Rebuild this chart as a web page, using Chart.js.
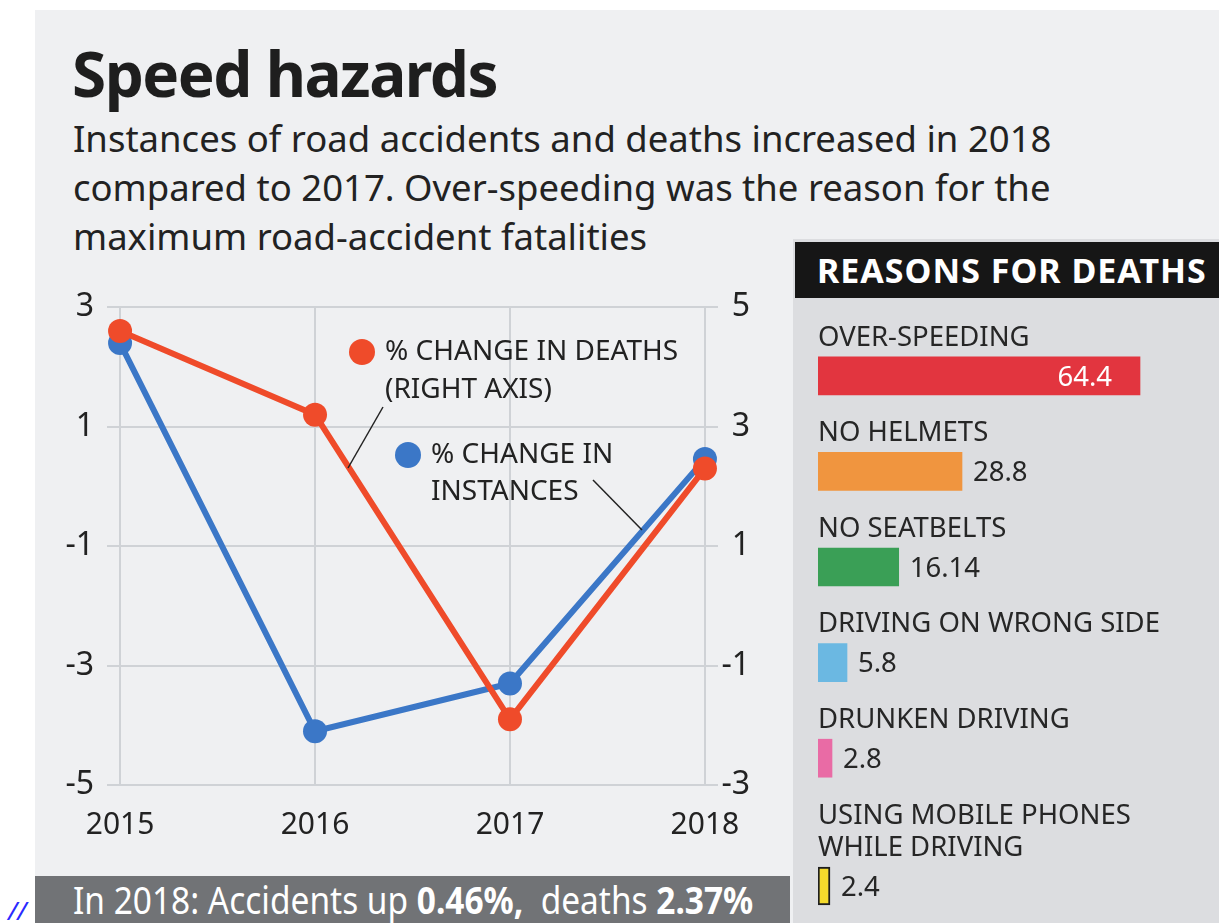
<!DOCTYPE html>
<html>
<head>
<meta charset="utf-8">
<script src="https://cdn.jsdelivr.net/npm/chart.js@4.4.1/dist/chart.umd.min.js"></script>
<style>
  body { margin: 0; width: 1219px; height: 923px; background: #fff; position: relative; overflow: hidden; font-family: "Noto Sans", sans-serif; color: #222; }
  .bg { position: absolute; left: 35px; top: 10px; width: 1184px; height: 913px; background: #eff0f2; }
  .side { position: absolute; left: 793px; top: 239px; width: 426px; height: 684px; background: #dcdde0; }
  .side-head { position: absolute; left: 795px; top: 242px; width: 424px; height: 56px; background: #161616; color: #fff; font-weight: bold; font-size: 34px; letter-spacing: 1px; line-height: 56px; padding-left: 22px; box-sizing: border-box; white-space: nowrap; overflow: hidden; }
  h1 { position: absolute; left: 72px; top: 42px; margin: 0; font-size: 62px; line-height: 62px; letter-spacing: -1.5px; font-weight: bold; color: #1e1e1e; }
  .sub { position: absolute; left: 73px; top: 114px; margin: 0; font-size: 36.5px; line-height: 49px; color: #222; white-space: nowrap; }
  .foot { position: absolute; left: 35px; top: 876px; width: 755px; height: 47px; background: #717376; color: #fff; font-size: 38px; line-height: 47px; white-space: nowrap; overflow: hidden; }
  .foot span { position: absolute; left: 38px; top: 0; transform: scaleX(0.88); transform-origin: left center; }
  .slash { position: absolute; left: 8px; top: 892px; font-size: 26px; font-style: italic; color: #2a2aff; }
  canvas { position: absolute; }
  #lineChart { left: 35px; top: 275px; }
  #barsTop { left: 818px; top: 305px; }
  #barsLast { left: 818px; top: 800px; }
</style>
</head>
<body>
<div class="bg"></div>
<div class="side"></div>
<div class="side-head">REASONS FOR DEATHS</div>
<h1>Speed hazards</h1>
<p class="sub">Instances of road accidents and deaths increased in 2018<br>compared to 2017. Over-speeding was the reason for the<br>maximum road-accident fatalities</p>
<div class="foot"><span>In 2018: Accidents up <b>0.46%,</b>&nbsp; deaths <b>2.37%</b></span></div>
<div class="slash">//</div>
<canvas id="lineChart" width="730" height="592"></canvas>
<canvas id="barsTop" width="400" height="501"></canvas>
<canvas id="barsLast" width="400" height="123"></canvas>
<script>
// line chart data (% change year on year)
const years = [2015, 2016, 2017, 2018];
const deathsChange = [4.6, 3.2, -1.9, 2.3];        // right axis
const instancesChange = [2.4, -4.1, -3.3, 0.46];   // left axis

// reasons for deaths (share, %)
const reasons = ["OVER-SPEEDING", "NO HELMETS", "NO SEATBELTS", "DRIVING ON WRONG SIDE",
  "DRUNKEN DRIVING", ["USING MOBILE PHONES", "WHILE DRIVING"]];
const reasonShares = [64.4, 28.8, 16.14, 5.8, 2.8, 2.4];

const red = "#ef4b2a";
const blue = "#3b77c7";
const barColors = ["#e2353f", "#f0953f", "#3a9f56", "#6bb8e2", "#e96ba5", "#f4da2c"];
const barBorders = [0, 0, 0, 0, 0, 2];
const FONT = '"Noto Sans", sans-serif';

const lineNotes = {
  id: "lineNotes",
  afterDatasetsDraw(chart) {
    const ctx = chart.ctx;
    ctx.save();
    // legend dots
    ctx.fillStyle = red;
    ctx.beginPath(); ctx.arc(327, 77, 13, 0, Math.PI * 2); ctx.fill();
    ctx.fillStyle = blue;
    ctx.beginPath(); ctx.arc(373, 180, 13, 0, Math.PI * 2); ctx.fill();
    // leader lines
    ctx.strokeStyle = "#222";
    ctx.lineWidth = 1.5;
    ctx.beginPath(); ctx.moveTo(348, 132); ctx.lineTo(313, 193); ctx.stroke();
    ctx.beginPath(); ctx.moveTo(558, 205); ctx.lineTo(607, 255); ctx.stroke();
    // labels
    ctx.fillStyle = "#222";
    ctx.font = "28px " + FONT;
    ctx.textBaseline = "middle";
    ctx.textAlign = "left";
    ctx.fillText("% CHANGE IN DEATHS", 350, 77);
    ctx.fillText("(RIGHT AXIS)", 350, 115);
    ctx.fillText("% CHANGE IN", 396, 180);
    ctx.fillText("INSTANCES", 396, 217);
    ctx.restore();
  }
};

new Chart(document.getElementById("lineChart"), {
  type: "line",
  data: {
    datasets: [
      {
        label: "% change in deaths",
        data: years.map((y, i) => ({ x: y, y: deathsChange[i] })),
        yAxisID: "yR",
        borderColor: red,
        backgroundColor: red,
        borderWidth: 6,
        pointRadius: 12,
        pointBorderWidth: 0,
        pointBackgroundColor: red
      },
      {
        label: "% change in instances",
        data: years.map((y, i) => ({ x: y, y: instancesChange[i] })),
        yAxisID: "yL",
        borderColor: blue,
        backgroundColor: blue,
        borderWidth: 6,
        pointRadius: 12,
        pointBorderWidth: 0,
        pointBackgroundColor: blue
      }
    ]
  },
  options: {
    responsive: false,
    animation: false,
    layout: { padding: { top: 0, right: 15, left: 0, bottom: 0 } },
    plugins: { legend: { display: false }, tooltip: { enabled: false } },
    scales: {
      x: {
        type: "linear",
        min: years[0] - 0.067,
        max: years[years.length - 1] + 0.067,
        border: { display: false },
        grid: { color: "#cfd2d6", lineWidth: 2, drawTicks: false },
        ticks: { stepSize: 1, includeBounds: false, padding: 22, color: "#222",
          font: { family: FONT, size: 30 }, callback: v => String(v) },
        afterFit: s => { s.height = 82; }
      },
      yL: {
        position: "left",
        min: -5, max: 3,
        border: { display: false },
        grid: { color: "#cfd2d6", lineWidth: 2, drawTicks: false },
        ticks: { stepSize: 2, padding: 13, color: "#222", font: { family: FONT, size: 32 } },
        afterFit: s => { s.width = 72; }
      },
      yR: {
        position: "right",
        min: -3, max: 5,
        border: { display: false },
        grid: { drawOnChartArea: false, drawTicks: false },
        ticks: { stepSize: 2, padding: 0, crossAlign: "far", color: "#222", font: { family: FONT, size: 32 } },
        afterFit: s => { s.width = 32; }
      }
    }
  },
  plugins: [lineNotes]
});

const barNotes = {
  id: "barNotes",
  afterDatasetsDraw(chart) {
    const ctx = chart.ctx;
    const meta = chart.getDatasetMeta(0);
    const labels = chart.data.labels;
    const values = chart.data.datasets[0].data;
    ctx.save();
    ctx.textBaseline = "middle";
    ctx.font = "27.5px " + FONT;
    meta.data.forEach((bar, i) => {
      const lines = [].concat(labels[i]);
      ctx.fillStyle = "#262626";
      ctx.textAlign = "left";
      lines.forEach((t, k) => {
        ctx.fillText(t, bar.base, bar.y - 38 - (lines.length - 1 - k) * 32);
      });
      const txt = String(values[i]);
      if (bar.x - bar.base > 200) {
        ctx.fillStyle = "#fff";
        ctx.textAlign = "right";
        ctx.fillText(txt, bar.x - 28, bar.y + 2);
      } else {
        ctx.fillStyle = "#262626";
        ctx.textAlign = "left";
        ctx.fillText(txt, bar.x + 11, bar.y + 2);
      }
    });
    ctx.restore();
  }
};

function barChart(id, from, to, padTop) {
  return new Chart(document.getElementById(id), {
    type: "bar",
    data: {
      labels: reasons.slice(from, to),
      datasets: [{
        data: reasonShares.slice(from, to),
        backgroundColor: barColors.slice(from, to),
        borderColor: "#1e1e1e",
        borderWidth: barBorders.slice(from, to),
        borderSkipped: false,
        barThickness: 38
      }]
    },
    options: {
      indexAxis: "y",
      responsive: false,
      animation: false,
      layout: { padding: { top: padTop, left: 0, right: 0, bottom: 0 } },
      plugins: { legend: { display: false }, tooltip: { enabled: false } },
      scales: {
        x: { display: false, min: 0, max: 80 },
        y: { display: false }
      }
    },
    plugins: [barNotes]
  });
}

barChart("barsTop", 0, 5, 23);
barChart("barsLast", 5, 6, 49);
</script>
</body>
</html>
